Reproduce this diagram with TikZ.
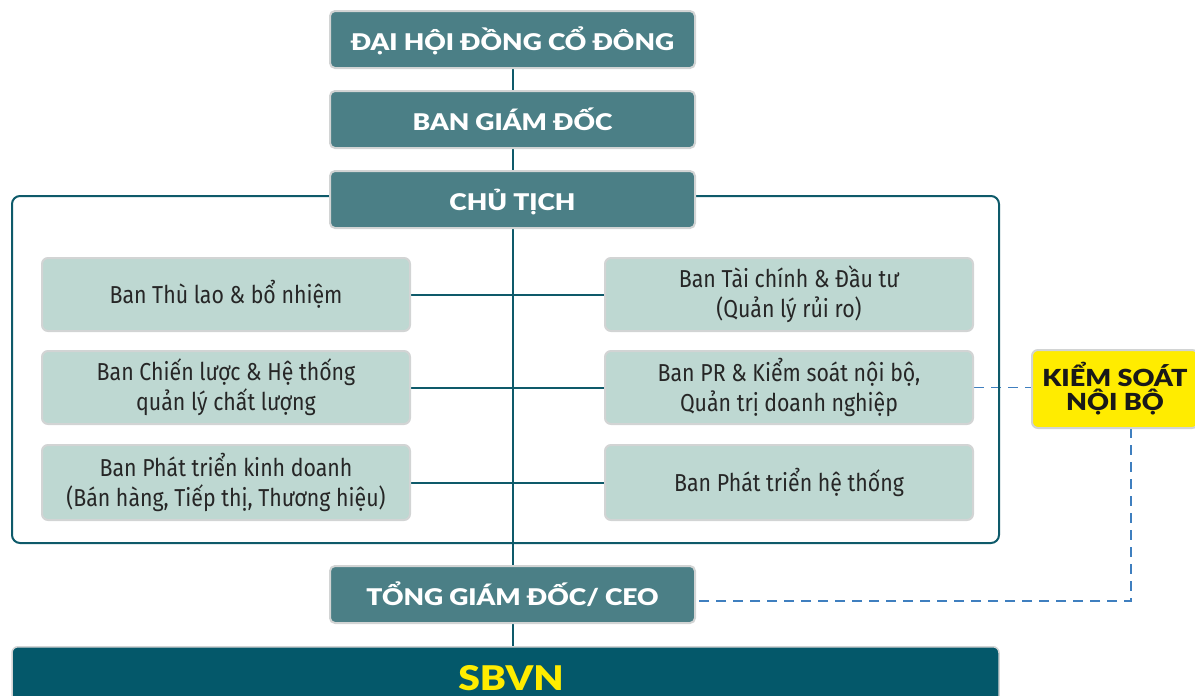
\documentclass[tikz,border=0pt]{standalone}
\usepackage{fontspec}
\setmainfont{Fira Sans}
\newfontfamily\headfont{Lato}[UprightFont=* Black,BoldFont=* Black,FakeStretch=1.15]
\newfontfamily\bodyfont{Fira Sans}[FakeStretch=0.87]
\usetikzlibrary{backgrounds}
\definecolor{headfill}{HTML}{4B7F86}
\definecolor{darkteal}{HTML}{0E5A6A}
\definecolor{lightbox}{HTML}{BED8D2}
\definecolor{sbvnfill}{HTML}{04586A}
\definecolor{kyellow}{HTML}{FFEC00}
\definecolor{dashblue}{HTML}{3F7FBF}
\definecolor{rim}{HTML}{D2D4D4}
\tikzset{
  headbox/.style={draw=rim, line width=2pt, fill=headfill, rounded corners=5pt,
    minimum width=365pt, minimum height=57pt, text=white,
    text height=21pt, text depth=0pt,
    font=\headfont\fontsize{23}{26}\selectfont, inner sep=0pt},
  deptbox/.style={draw=rim, line width=2pt, fill=lightbox, rounded corners=6pt,
    minimum width=368pt, minimum height=73pt, text=black!85,
    font=\bodyfont\fontsize{24.5}{30}\selectfont, align=center, inner sep=0pt},
  conn/.style={draw=darkteal, line width=2pt},
  dconn/.style={draw=dashblue, line width=1.5pt, dash pattern=on 10pt off 7pt},
}
\begin{document}
\begin{tikzpicture}[x=1pt,y=-1pt]
\useasboundingbox (0,0) rectangle (1195,696);
% container
\draw[darkteal, line width=2pt, rounded corners=8pt] (12,196) rectangle (999,543);
% heading boxes
\node[headbox] (dhd) at (512.5,39.5) {ĐẠI HỘI ĐỒNG CỔ ĐÔNG};
\node[headbox] (bgd) at (512.5,119.5) {BAN GIÁM ĐỐC};
\node[headbox] (ct) at (512.5,199.5) {CHỦ TỊCH};
\node[headbox] (ceo) at (512.5,594.5) {TỔNG GIÁM ĐỐC/ CEO};
% departments
\node[deptbox] (l1) at (226,294.5) {Ban Thù lao \& bổ nhiệm};
\node[deptbox] (l2) at (226,387.5) {Ban Chiến lược \& Hệ thống\\quản lý chất lượng};
\node[deptbox, minimum height=75pt] (l3) at (226,482.5) {Ban Phát triển kinh doanh\\(Bán hàng, Tiếp thị, Thương hiệu)};
\node[deptbox] (r1) at (789,294.5) {Ban Tài chính \& Đầu tư\\(Quản lý rủi ro)};
\node[deptbox] (r2) at (789,387.5) {Ban PR \& Kiểm soát nội bộ,\\Quản trị doanh nghiệp};
\node[deptbox, minimum height=75pt] (r3) at (789,482.5) {Ban Phát triển hệ thống};
% internal control
\node[draw=rim, line width=2pt, fill=kyellow, rounded corners=6pt, minimum width=166pt,
  minimum height=78pt, align=center, inner sep=0pt, text=black!90,
  font=\headfont\fontsize{23.5}{24}\selectfont] (ks) at (1115,389) {KIỂM SOÁT\\NỘI BỘ};
% SBVN
\node[fill=sbvnfill, draw=rim, line width=1.5pt, rounded corners=6pt, minimum width=987pt,
  minimum height=60pt, inner sep=0pt, anchor=north] (sbvn) at (505.5,646) {};
\node[text=kyellow, font=\headfont\fontsize{34}{38}\selectfont] (sbvnt) at (511,678) {SBVN};
\coordinate (ksb) at (1131,428);
\coordinate (corner) at (1131,601);
\coordinate (ceor) at (695,601);
\begin{scope}[on background layer]
\draw[conn] (dhd.south) -- (sbvn.north -| dhd.south);
\draw[conn] (l1.east) -- (r1.west);
\draw[conn] (l2.east) -- (r2.west);
\draw[conn] (l3.east) -- (r3.west);
\draw[dconn] (r2.east) -- (r2.east -| ks.west);
\draw[dconn] (ksb) -- (corner) -- (ceor);
\end{scope}
\end{tikzpicture}
\end{document}
